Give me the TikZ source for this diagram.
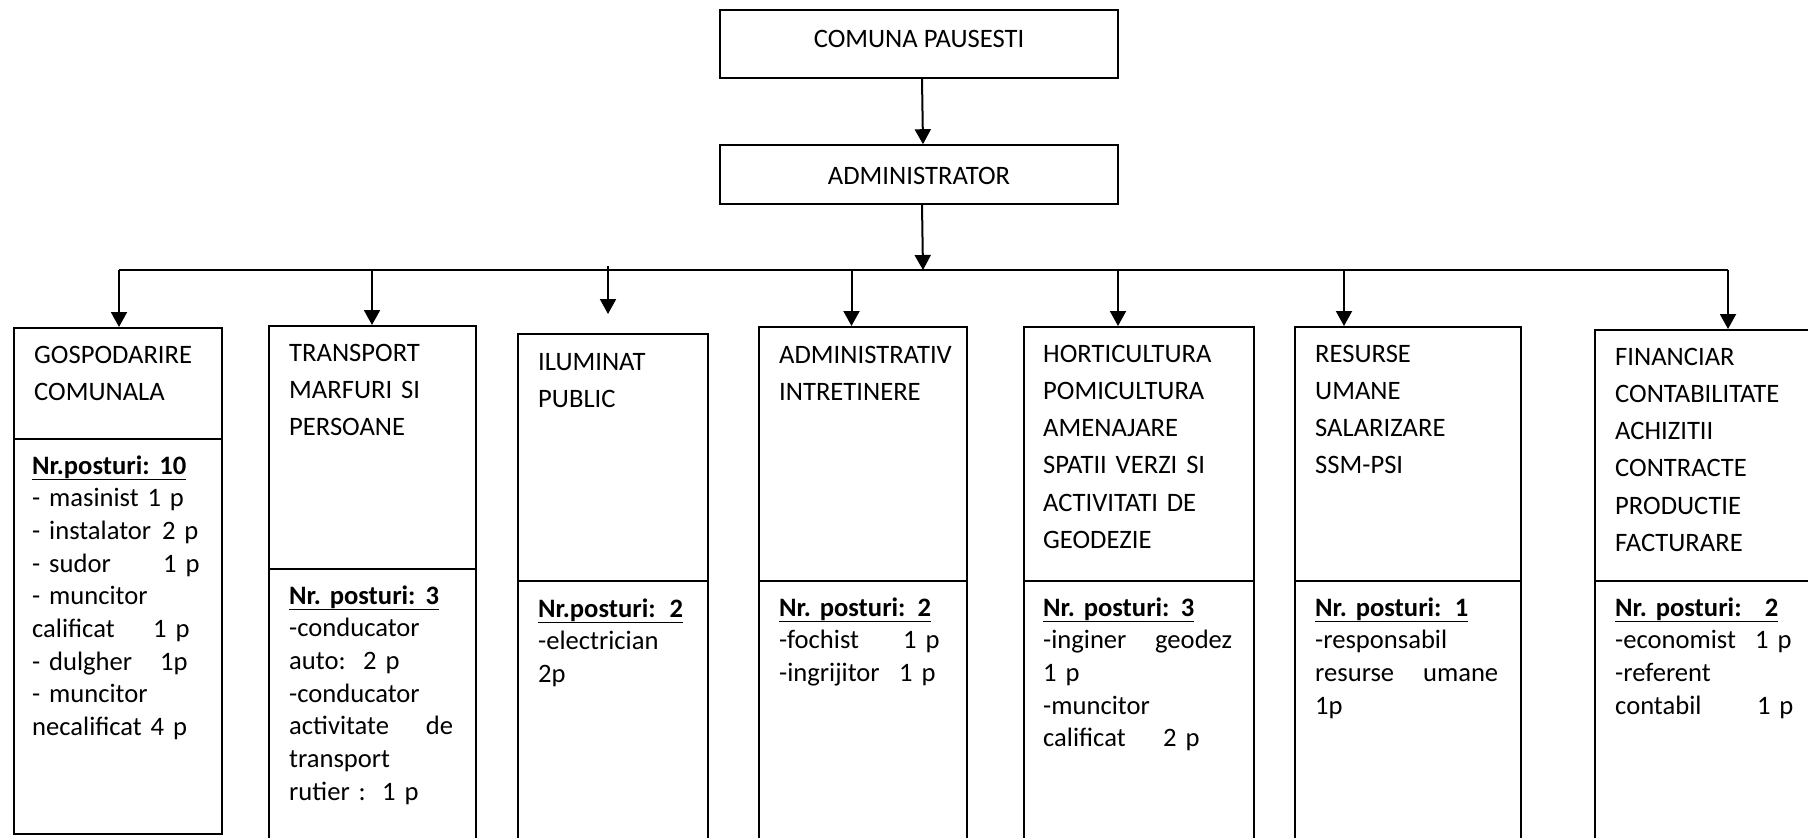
\documentclass[tikz,border=0pt]{standalone}
\usepackage{fontspec}
\setmainfont{Carlito}
\usetikzlibrary{arrows.meta}
\newcommand{\tb}[2]{\makebox[#1][l]{#2}}
\newcommand{\nrp}[3]{\underline{\makebox[#1][l]{\textbf{#2}\hfill\textbf{#3}}}}
\tikzset{
  topbox/.style={draw,line width=1.6pt,inner sep=0pt,minimum width=398pt,font=\fontsize{26.6}{32}\selectfont},
  dept/.style={draw,line width=1.6pt,inner sep=0pt,anchor=north west},
  sep/.style={line width=1.6pt},
  arr/.style={line width=2pt,-{Triangle[length=15pt,width=16pt]}},
  bus/.style={line width=1.4pt},
  head/.style={anchor=base west,inner sep=0pt,text width=205pt,align=left,font=\fontsize{26.6}{37.3}\selectfont},
  list/.style={anchor=base west,inner sep=0pt,text width=205pt,align=left,font=\fontsize{26.6}{32.7}\selectfont},
}
\begin{document}
\begin{tikzpicture}[x=1pt,y=-1pt]
        \useasboundingbox (0,0) rectangle (1808,838);
        \clip (0,0) rectangle (1808,838);
        %vertice
        \node[topbox,minimum height=68pt,text height=17pt,text depth=11pt] (com) at (919,44) {COMUNA PAUSESTI};
        \node[topbox,minimum height=59pt,text height=19pt,text depth=0pt] (adm) at (919,174.5) {ADMINISTRATOR};
        \draw[arr] ([xshift=3pt]com.south) -- ([xshift=4pt]adm.north);
        %linea orizzontale
        \coordinate (b0) at (923,270);
        \coordinate (b1) at (119,270);
        \coordinate (b2) at (372,270);
        \coordinate (b3) at (608,270);
        \coordinate (b4) at (851.5,270);
        \coordinate (b5) at (1118,270);
        \coordinate (b6) at (1344,270);
        \coordinate (b7) at (1728,270);
        \draw[arr] ([xshift=3pt]adm.south) -- (b0);
        \draw[bus] (b1) -- (b7);
        %caselle
        \node[dept,minimum width=208pt,minimum height=506pt] (gosp) at (13,327) {};
        \node[dept,minimum width=207pt,minimum height=560pt] (trans) at (268,325) {};
        \node[dept,minimum width=190pt,minimum height=560pt] (ilum) at (517,333) {};
        \node[dept,minimum width=208pt,minimum height=560pt] (admv) at (758,326) {};
        \node[dept,minimum width=230pt,minimum height=560pt] (hort) at (1023,326) {};
        \node[dept,minimum width=226pt,minimum height=560pt] (resu) at (1294,326) {};
        \node[dept,minimum width=240pt,minimum height=560pt] (fin) at (1594,329) {};
        \draw[sep] (gosp.west |- 0,439) -- (gosp.east |- 0,439);
        \draw[sep] (trans.west |- 0,569) -- (trans.east |- 0,569);
        \draw[sep] (ilum.west |- 0,581) -- (ilum.east |- 0,581);
        \draw[sep] (admv.west |- 0,581) -- (admv.east |- 0,581);
        \draw[sep] (hort.west |- 0,581) -- (hort.east |- 0,581);
        \draw[sep] (resu.west |- 0,581) -- (resu.east |- 0,581);
        \draw[sep] (fin.west |- 0,581) -- (fin.east |- 0,581);
        %frecce
        \draw[arr] (b1) -- (b1 |- gosp.north);
        \draw[arr] (b2) -- (b2 |- trans.north);
        \draw[arr,shorten >=19pt] ([yshift=4pt]b3) -- (b3 |- ilum.north);
        \draw[arr] (b4) -- (b4 |- admv.north);
        \draw[arr] (b5) -- (b5 |- hort.north);
        \draw[arr] (b6) -- (b6 |- resu.north);
        \draw[arr] (b7) -- (b7 |- fin.north);
        %titoli
        \node[head] (gospT) at (34,363) {GOSPODARIRE\\COMUNALA};
        \node[head] (transT) at (289,361) {TRANSPORT\\MARFURI SI\\PERSOANE};
        \node[head] (ilumT) at (538,370) {ILUMINAT\\PUBLIC};
        \node[head] (admvT) at (779,363) {ADMINISTRATIV\\INTRETINERE};
        \node[head] (hortT) at (1043,362) {HORTICULTURA\\POMICULTURA\\AMENAJARE\\SPATII VERZI SI\\ACTIVITATI DE\\GEODEZIE};
        \node[head] (resuT) at (1315,362) {RESURSE\\UMANE\\SALARIZARE\\SSM-PSI};
        \node[head] (finT) at (1615,365) {FINANCIAR\\CONTABILITATE\\ACHIZITII\\CONTRACTE\\PRODUCTIE\\FACTURARE};
        %posturi
        \node[list] (gospL) at (32,474) {\nrp{154pt}{Nr.posturi:}{10}\\- masinist 1 p\\\tb{130pt}{- instalator}2 p\\\tb{131pt}{- sudor}1 p\\- muncitor\\\tb{121pt}{calificat}1 p\\\tb{128pt}{- dulgher}1p\\- muncitor\\necalificat 4 p};
        \node[list] (transL) at (289,604) {\nrp{150pt}{Nr.\ posturi:}{3}\\-conducator\\\tb{74pt}{auto:}2 p\\-conducator\\\makebox[164pt]{activitate\hfill de}\\transport\\\tb{93pt}{rutier :}1 p};
        \node[list] (ilumL) at (538,617) {\nrp{145pt}{Nr.posturi:}{2}\\-electrician\\2p};
        \node[list] (admvL) at (779,616) {\nrp{152pt}{Nr.\ posturi:}{2}\\\tb{124pt}{-fochist}1 p\\\tb{120pt}{-ingrijitor}1 p};
        \node[list] (hortL) at (1043,616) {\nrp{151pt}{Nr.\ posturi:}{3}\\\makebox[189pt]{-inginer\hfill geodez}\\1 p\\-muncitor\\\tb{120pt}{calificat}2 p};
        \node[list] (resuL) at (1315,616) {\nrp{153pt}{Nr.\ posturi:}{1}\\-responsabil\\\makebox[183pt]{resurse\hfill umane}\\1p};
        \node[list] (finL) at (1615,616) {\nrp{163pt}{Nr.\ posturi:}{2}\\\tb{140pt}{-economist}1 p\\-referent\\\tb{142pt}{contabil}1 p};
\end{tikzpicture}
\end{document}
